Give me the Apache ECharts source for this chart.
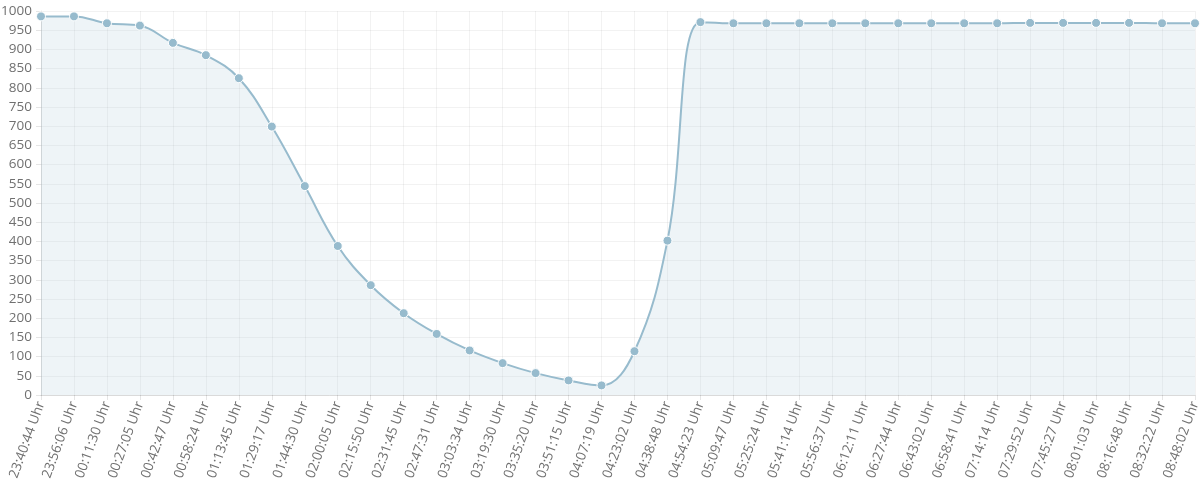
<!DOCTYPE html>
<html>
<head>
<meta charset="utf-8">
<script src="https://cdn.jsdelivr.net/npm/echarts@6/dist/echarts.min.js"></script>
<style>html,body{margin:0;padding:0;background:#fff}#c{width:1200px;height:500px}</style>
</head>
<body>
<div id="c"></div>
<script>
const categories = ["23:40:44 Uhr","23:56:06 Uhr","00:11:30 Uhr","00:27:05 Uhr","00:42:47 Uhr","00:58:24 Uhr","01:13:45 Uhr","01:29:17 Uhr","01:44:30 Uhr","02:00:05 Uhr","02:15:50 Uhr","02:31:45 Uhr","02:47:31 Uhr","03:03:34 Uhr","03:19:30 Uhr","03:35:20 Uhr","03:51:15 Uhr","04:07:19 Uhr","04:23:02 Uhr","04:38:48 Uhr","04:54:23 Uhr","05:09:47 Uhr","05:25:24 Uhr","05:41:14 Uhr","05:56:37 Uhr","06:12:11 Uhr","06:27:44 Uhr","06:43:02 Uhr","06:58:41 Uhr","07:14:14 Uhr","07:29:52 Uhr","07:45:27 Uhr","08:01:03 Uhr","08:16:48 Uhr","08:32:22 Uhr","08:48:02 Uhr"];
const values = [986,986,968,962,917,885,825,699,544,388,286,213,159,116,83,57,38,25,114,402,971,968,968,968,968,968,968,968,968,968,969,969,969,969,968,968];
const yMin = 0, yMax = 1000, yStep = 50;

const chart = echarts.init(document.getElementById('c'), null, {renderer:'canvas'});
const font = 'Open Sans';
chart.setOption({
  animation:false,
  grid:{left:41,right:5,top:11,bottom:105,containLabel:false,outerBoundsMode:'none'},
  xAxis:{
    type:'category', data:categories, boundaryGap:false,
    axisLine:{show:true,lineStyle:{color:'rgba(0,0,0,0.1)'}},
    axisTick:{show:true,length:5,lineStyle:{color:'rgba(0,0,0,0.1)'}},
    axisLabel:{rotate:70,color:'#707070',fontFamily:font,fontSize:13.5,margin:7,interval:0},
    splitLine:{show:true,lineStyle:{color:'rgba(0,0,0,0.05)'}}
  },
  yAxis:{
    type:'value', min:yMin, max:yMax, interval:yStep,
    axisLine:{show:true,lineStyle:{color:'rgba(0,0,0,0.1)'}},
    axisTick:{show:true,length:5,lineStyle:{color:'rgba(0,0,0,0.1)'}},
    axisLabel:{color:'#707070',fontFamily:font,fontSize:13.5,margin:9,formatter:function(v){return String(v);}},
    splitLine:{show:true,lineStyle:{color:'rgba(0,0,0,0.05)'}}
  },
  series:[{
    type:'line', data:values, smooth:0.4,
    symbol:'circle', symbolSize:9, showAllSymbol:true,
    lineStyle:{color:'rgba(151,187,205,1)',width:2},
    itemStyle:{color:'rgba(151,187,205,1)',borderColor:'#fff',borderWidth:1},
    areaStyle:{color:'rgba(151,187,205,0.23)'}
  }]
});
</script>
</body>
</html>
